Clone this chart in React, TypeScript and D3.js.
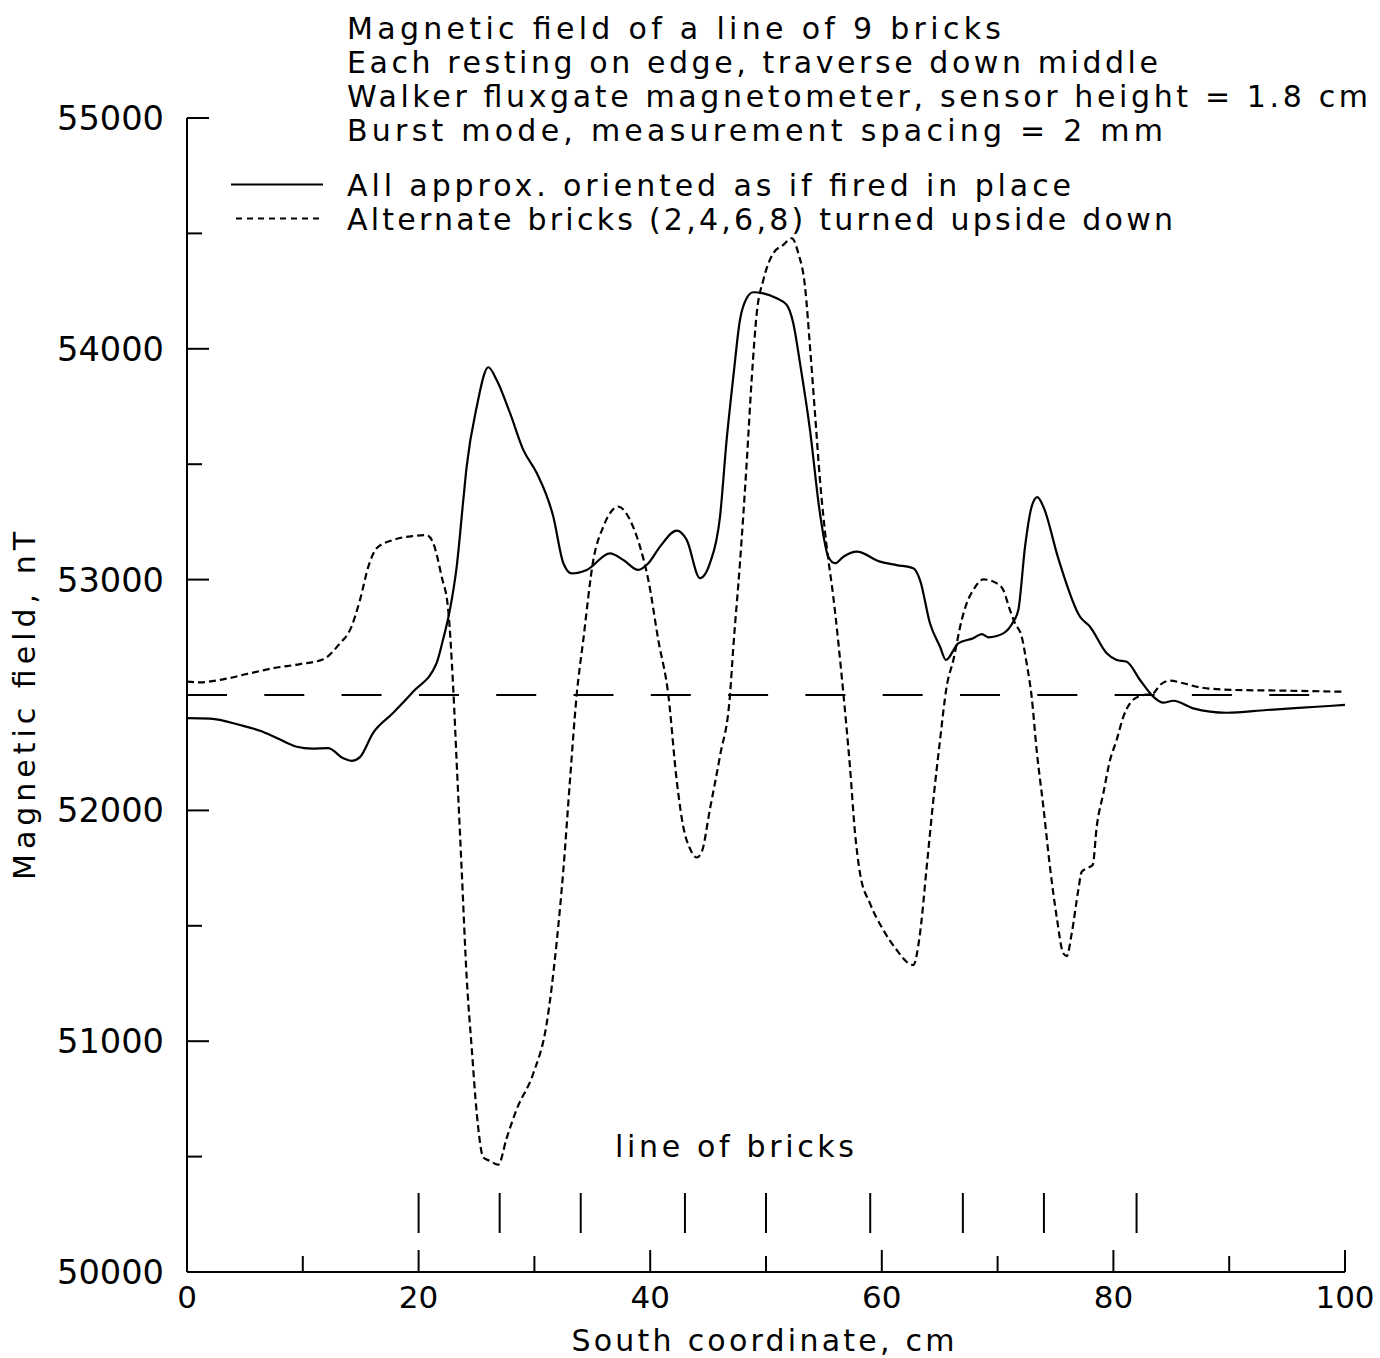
import React from "react";
import * as d3 from "d3";

const solidX = [0, 2, 4.58, 6.3, 7.75, 9.47, 10.8, 12.18, 13.47, 14.22, 14.94, 16.06, 17.79, 19.52, 21.56, 22.1, 22.7, 23.29, 23.86, 24.15, 25.02, 26.02, 26.74, 27.89, 29.04, 30.2, 31.63, 32.5, 33.22, 34.52, 36.53, 37.68, 38.97, 39.84, 40.85, 42.29, 43.15, 44.3, 45.16, 46.03, 46.6, 47.18, 47.75, 48.33, 48.9, 49.77, 50.92, 51.79, 52.36, 52.94, 53.8, 54.66, 55.38, 55.96, 56.68, 57.83, 59.84, 61.29, 62.72, 63.3, 64.16, 65.03, 65.54, 66.6, 67.9, 68.63, 69.2, 70.49, 71.36, 71.79, 72.37, 72.94, 73.43, 73.95, 75.24, 77.12, 77.98, 79.42, 80.28, 81.15, 82.3, 83.44, 84.31, 85.17, 86.9, 89.78, 93.24, 97.56, 100];
const solidY = [52400, 52398, 52370, 52345, 52314, 52276, 52268, 52270, 52227, 52215, 52231, 52335, 52422, 52514, 52639, 52738, 52868, 53056, 53345, 53489, 53749, 53920, 53865, 53722, 53562, 53462, 53273, 53071, 53027, 53042, 53114, 53085, 53042, 53071, 53143, 53212, 53172, 53006, 53071, 53273, 53605, 53880, 54125, 54219, 54245, 54240, 54219, 54190, 54110, 53937, 53648, 53287, 53099, 53071, 53099, 53121, 53078, 53063, 53049, 52998, 52811, 52709, 52652, 52724, 52746, 52764, 52750, 52767, 52818, 52868, 53143, 53316, 53357, 53316, 53092, 52839, 52796, 52681, 52652, 52644, 52565, 52493, 52467, 52475, 52442, 52423, 52435, 52449, 52457];

const dashX = [0, 1.12, 3.13, 5.16, 7.45, 9.76, 11.77, 13.21, 14.08, 14.94, 15.66, 16.38, 17.82, 19.54, 20.7, 21.27, 21.99, 22.56, 23.0, 23.29, 23.72, 24.15, 24.59, 25.02, 25.59, 26.17, 26.88, 27.61, 28.47, 29.9, 31.06, 31.93, 32.5, 33.07, 33.65, 34.22, 35.09, 35.95, 37.25, 38.26, 39.12, 39.84, 40.7, 41.56, 42.29, 42.86, 43.44, 44.02, 44.45, 45.16, 46.03, 46.89, 47.18, 47.75, 48.33, 48.76, 49.2, 49.77, 50.63, 51.49, 52.22, 52.79, 53.37, 53.8, 54.23, 54.66, 55.24, 55.81, 56.68, 57.25, 57.69, 58.12, 58.98, 60.13, 61.29, 62.15, 62.72, 63.3, 63.88, 64.45, 65.03, 65.6, 66.18, 66.9, 67.33, 67.9, 68.77, 69.92, 70.49, 71.07, 71.5, 72.08, 72.51, 72.94, 73.37, 73.95, 74.52, 75.1, 75.67, 75.97, 76.4, 76.97, 77.26, 77.69, 78.21, 78.56, 79.13, 79.71, 80.28, 80.86, 81.43, 82.3, 83.44, 84.02, 84.89, 86.04, 87.48, 90.35, 94.67, 100];
const dashY = [52558, 52555, 52568, 52591, 52616, 52634, 52655, 52724, 52782, 52912, 53056, 53136, 53172, 53189, 53193, 53157, 53013, 52868, 52520, 52206, 51742, 51278, 50968, 50689, 50496, 50481, 50465, 50581, 50705, 50860, 51076, 51432, 51742, 52129, 52500, 52738, 53085, 53229, 53316, 53258, 53143, 52998, 52738, 52503, 52129, 51928, 51834, 51796, 51820, 52006, 52237, 52500, 52709, 53071, 53504, 53865, 54154, 54298, 54414, 54450, 54479, 54414, 54269, 54009, 53721, 53432, 53143, 52926, 52507, 52189, 51901, 51727, 51597, 51482, 51395, 51344, 51330, 51467, 51756, 52045, 52305, 52536, 52652, 52825, 52897, 52955, 53001, 52984, 52955, 52868, 52811, 52753, 52637, 52493, 52262, 52016, 51756, 51539, 51381, 51369, 51467, 51655, 51734, 51749, 51763, 51929, 52074, 52218, 52305, 52406, 52464, 52496, 52507, 52543, 52562, 52551, 52533, 52522, 52519, 52514];

const brickPositions = [20, 27, 34, 43, 50, 59, 67, 74, 82];
const xMajorTicks = [0, 20, 40, 60, 80, 100];
const xMinorTicks = [10, 30, 50, 70, 90];
const yMajorTicks = [50000, 51000, 52000, 53000, 54000, 55000];
const yMinorTicks = [50500, 51500, 52500, 53500, 54500];
const referenceLevel = 52500;

const titleLines = [
  "Magnetic field of a line of 9 bricks",
  "Each resting on edge, traverse down middle",
  "Walker fluxgate magnetometer, sensor height = 1.8 cm",
  "Burst mode, measurement spacing = 2 mm",
];
const titleWidths = [654, 811, 1021, 816];
const legendLabels = [
  "All approx. oriented as if fired in place",
  "Alternate bricks (2,4,6,8) turned upside down",
];
const legendWidths = [724, 826];

const FONT = "'DejaVu Sans', 'Liberation Sans', sans-serif";

export default function App() {
  const x = d3.scaleLinear().domain([0, 100]).range([187, 1345]);
  const y = d3.scaleLinear().domain([50000, 55000]).range([1272, 118]);

  const lineGen = d3
    .line<[number, number]>()
    .x((d) => x(d[0]))
    .y((d) => y(d[1]))
    .curve(d3.curveMonotoneX);
  const solidPath = lineGen(solidX.map((v, i) => [v, solidY[i]] as [number, number]));
  const dashPath = lineGen(dashX.map((v, i) => [v, dashY[i]] as [number, number]));

  const x0 = x(0);
  const yBase = y(50000);

  return (
    <div style={{ position: "absolute", left: 0, top: 0 }}>
      <svg width={1380} height={1358} style={{ display: "block", background: "#fff" }} fontFamily={FONT}>
        <rect x={0} y={0} width={1380} height={1358} fill="#fff" />
        {/* axes */}
        <line x1={x0} y1={y(55000)} x2={x0} y2={yBase} stroke="#000" strokeWidth={2} />
        <line x1={x0} y1={yBase} x2={x(100)} y2={yBase} stroke="#000" strokeWidth={2} />
        {yMajorTicks.map((t) => (
          <line key={"ym" + t} x1={x0} x2={x0 + 22} y1={y(t)} y2={y(t)} stroke="#000" strokeWidth={2} />
        ))}
        {yMinorTicks.map((t) => (
          <line key={"yn" + t} x1={x0} x2={x0 + 15} y1={y(t)} y2={y(t)} stroke="#000" strokeWidth={2} />
        ))}
        {xMajorTicks.map((t) => (
          <line key={"xm" + t} x1={x(t)} x2={x(t)} y1={yBase} y2={yBase - 22} stroke="#000" strokeWidth={2} />
        ))}
        {xMinorTicks.map((t) => (
          <line key={"xn" + t} x1={x(t)} x2={x(t)} y1={yBase} y2={yBase - 16} stroke="#000" strokeWidth={2} />
        ))}
        {yMajorTicks.map((t) => (
          <text key={"yl" + t} x={57} y={y(t) + 12} fontSize={33} textLength={107} lengthAdjust="spacingAndGlyphs">
            {t}
          </text>
        ))}
        {xMajorTicks.map((t) => (
          <text key={"xl" + t} x={x(t)} y={yBase + 36} fontSize={31} textAnchor="middle">
            {t}
          </text>
        ))}
        <text x={763} y={1351} fontSize={30} textAnchor="middle" textLength={383} lengthAdjust="spacing">
          South coordinate, cm
        </text>
        <text
          transform={`translate(35,${706}) rotate(-90)`}
          fontSize={30}
          textAnchor="middle"
          textLength={348}
          lengthAdjust="spacing"
        >
          Magnetic field, nT
        </text>

        {/* reference line */}
        <line
          x1={x0}
          x2={x(100)}
          y1={y(referenceLevel)}
          y2={y(referenceLevel)}
          stroke="#000"
          strokeWidth={2}
          strokeDasharray="40,37.3"
        />

        {/* data */}
        <path d={solidPath || ""} fill="none" stroke="#000" strokeWidth={2.2} strokeLinejoin="round" />
        <path d={dashPath || ""} fill="none" stroke="#000" strokeWidth={2.2} strokeDasharray="7,4" />

        {/* bricks */}
        {brickPositions.map((b) => (
          <line key={"b" + b} x1={x(b)} x2={x(b)} y1={yBase - 79} y2={yBase - 39} stroke="#000" strokeWidth={2} />
        ))}
        <text x={615} y={1157} fontSize={30} textLength={239} lengthAdjust="spacing">
          line of bricks
        </text>

        {/* title */}
        {titleLines.map((t, i) => (
          <text key={"t" + i} x={347} y={39 + i * 34} fontSize={30} textLength={titleWidths[i]} lengthAdjust="spacing">
            {t}
          </text>
        ))}
        {/* legend */}
        <line x1={231} x2={323} y1={184.5} y2={184.5} stroke="#000" strokeWidth={2} />
        <line x1={236} x2={323} y1={218.5} y2={218.5} stroke="#000" strokeWidth={2} strokeDasharray="6,5" />
        {legendLabels.map((t, i) => (
          <text key={"l" + i} x={347} y={196 + i * 34} fontSize={30} textLength={legendWidths[i]} lengthAdjust="spacing">
            {t}
          </text>
        ))}
      </svg>
    </div>
  );
}
